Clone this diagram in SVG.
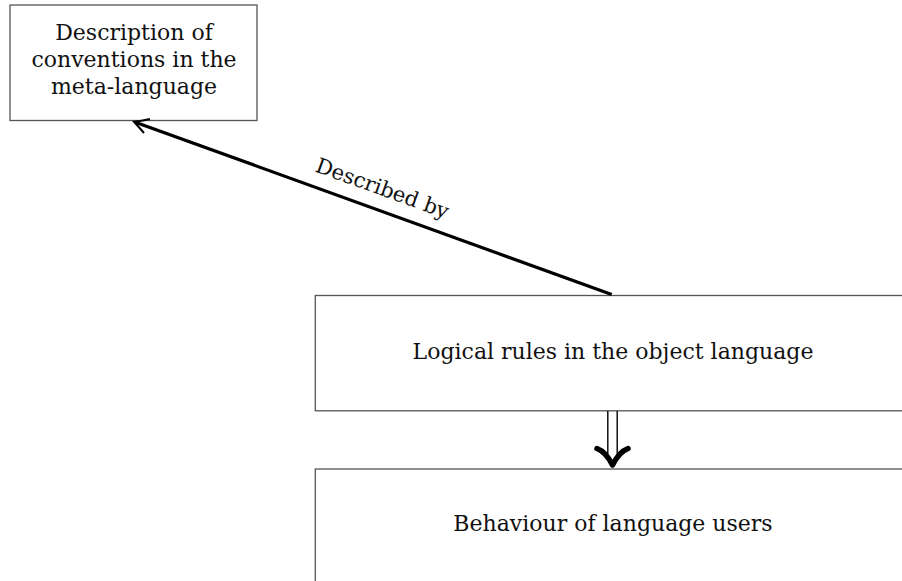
<svg xmlns="http://www.w3.org/2000/svg" width="902" height="581" viewBox="0 0 902 581">
<style>
.box{fill:#fff;stroke:#555;stroke-width:1.3}
.t{font-family:"DejaVu Serif","Liberation Serif",serif;font-size:22px;fill:#111;text-anchor:middle}
.lbl{font-family:"DejaVu Serif","Liberation Serif",serif;font-size:21px;fill:#111;text-anchor:middle}
</style>
<rect width="902" height="581" fill="#fff"/>
<g id="node-meta">
<rect class="box" x="10" y="5" width="247" height="115.5"/>
<text class="t" x="134" y="39.5">Description of</text>
<text class="t" x="134" y="66.5">conventions in the</text>
<text class="t" x="134" y="93.5">meta-language</text>
</g>
<g id="node-rules">
<rect class="box" x="315.3" y="295.5" width="600" height="115.3"/>
<text class="t" x="613" y="358.5">Logical rules in the object language</text>
</g>
<g id="node-behaviour">
<rect class="box" x="315.3" y="469" width="600" height="130"/>
<text class="t" x="613" y="531">Behaviour of language users</text>
</g>
<g id="connectors">
<line x1="611.7" y1="294.5" x2="136" y2="122.4" stroke="#000" stroke-width="3.2"/>
<path d="M144,133 Q138,126 134,121.7 Q141,121 150,119" fill="none" stroke="#000" stroke-width="2"/>
<text class="lbl" transform="translate(380,195) rotate(19.87)">Described by</text>
<line x1="607.8" y1="411" x2="607.8" y2="455" stroke="#000" stroke-width="1.4"/>
<line x1="617.2" y1="411" x2="617.2" y2="455" stroke="#000" stroke-width="1.4"/>
<path d="M597,448.5 Q606,452 612.5,465 Q619,452 628,448.5" fill="none" stroke="#000" stroke-width="5.5" stroke-linecap="round" stroke-linejoin="round"/>
</g>
</svg>
